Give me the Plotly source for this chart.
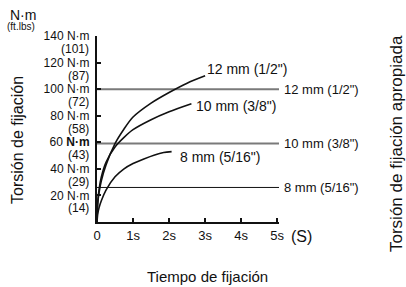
import plotly.graph_objects as go

# ---- data ----
torque_ticks = [20, 40, 60, 80, 100, 120, 140]
torque_ftlbs = ["(14)", "(29)", "(43)", "(58)", "(72)", "(87)", "(101)"]
time_ticks = [0, 1, 2, 3, 4, 5]
time_labels = ["0", "1s", "2s", "3s", "4s", "5s"]

bolt_names = ['12 mm (1/2")', '10 mm (3/8")', '8 mm (5/16")']

t_12 = [0, 0.02, 0.06, 0.12, 0.25, 0.5, 0.75, 1.0, 1.5, 2.0, 2.5, 3.0]
v_12 = [0, 14, 22.5, 31, 43, 59, 70, 79, 89.5, 97.5, 104.5, 110]

t_10 = [0, 0.02, 0.06, 0.12, 0.25, 0.5, 0.75, 1.0, 1.5, 2.0, 2.62]
v_10 = [0, 15, 25, 34, 45, 56.5, 63.7, 69.5, 77, 83, 89]

t_8 = [0, 0.02, 0.06, 0.12, 0.25, 0.5, 0.75, 1.0, 1.3, 1.6, 1.85, 2.07]
v_8 = [0, 6, 11, 16, 24, 34, 40, 44, 47.5, 50.5, 52.3, 53]

ref_torque = [100, 59, 26]   # appropriate torque for 12, 10, 8 mm
ref_t_end = 5.05

FONT = "Liberation Sans, Arial, sans-serif"
W, H = 406, 287
ML, MR, MT, MB = 97, 127, 36, 65
pw, ph = W - ML - MR, H - MT - MB


def px_x(px):
    return (px - ML) / pw


def px_y(py):
    return 1 - (py - MT) / ph


fig = go.Figure()

# reference (appropriate torque) lines
ref_colors = ["#7a7a7a", "#7a7a7a", "#111111"]
ref_widths = [2, 2, 1]
for val, col, w in zip(ref_torque, ref_colors, ref_widths):
    fig.add_trace(go.Scatter(x=[0, ref_t_end], y=[val, val], mode="lines",
                             line=dict(color=col, width=w), hoverinfo="skip",
                             showlegend=False, cliponaxis=False))

# tightening curves
for tt, vv in [(t_12, v_12), (t_10, v_10), (t_8, v_8)]:
    fig.add_trace(go.Scatter(x=tt, y=vv, mode="lines",
                             line=dict(color="#111111", width=1.6, shape="spline", smoothing=0.8),
                             hoverinfo="skip", showlegend=False))

ann = []
# curve end labels
label_shift = [(0, 7), (3, -2), (6, -5)]
for (tt, vv), name, (dx, dy) in zip([(t_12, v_12), (t_10, v_10), (t_8, v_8)], bolt_names, label_shift):
    ann.append(dict(x=tt[-1], y=vv[-1], xref="x", yref="y", text=name, showarrow=False,
                    xanchor="left", yanchor="middle", xshift=dx, yshift=dy,
                    font=dict(size=14, color="#111111", family=FONT)))
# right labels
for val, name in zip(ref_torque, bolt_names):
    ann.append(dict(x=ref_t_end, y=val, xref="x", yref="y", text=name, showarrow=False,
                    xanchor="left", yanchor="middle", xshift=3,
                    font=dict(size=13, color="#111111", family=FONT)))
# ft.lbs sub-labels
for v, ft in zip(torque_ticks, torque_ftlbs):
    ann.append(dict(x=0, y=v, xref="paper", yref="y", text=ft, showarrow=False,
                    xanchor="right", yanchor="middle", xshift=-6, yshift=-13,
                    font=dict(size=12, color="#111111", family=FONT)))
# unit header
ann.append(dict(x=px_x(23), y=px_y(15), xref="paper", yref="paper", text="N·m", showarrow=False,
                xanchor="center", yanchor="middle",
                font=dict(size=14, color="#111111", family=FONT)))
ann.append(dict(x=px_x(21), y=px_y(26), xref="paper", yref="paper", text="(ft.lbs)", showarrow=False,
                xanchor="center", yanchor="middle",
                font=dict(size=10, color="#111111", family=FONT)))
# (S)
ann.append(dict(x=px_x(301), y=px_y(236), xref="paper", yref="paper", text="(S)", showarrow=False,
                xanchor="center", yanchor="middle",
                font=dict(size=16, color="#111111", family=FONT)))
# y title (left) and right title
ann.append(dict(x=px_x(17), y=px_y(140), xref="paper", yref="paper", text="Torsión de fijación",
                showarrow=False, textangle=-90, xanchor="center", yanchor="middle",
                font=dict(size=16, color="#111111", family=FONT)))
ann.append(dict(x=px_x(396), y=px_y(144), xref="paper", yref="paper", text="Torsión de fijación apropiada",
                showarrow=False, textangle=-90, xanchor="center", yanchor="middle",
                font=dict(size=17, color="#111111", family=FONT)))
# x title
ann.append(dict(x=px_x(207), y=px_y(276), xref="paper", yref="paper", text="Tiempo de fijación",
                showarrow=False, xanchor="center", yanchor="middle",
                font=dict(size=15, color="#111111", family=FONT)))

fig.update_layout(
    width=W, height=H,
    margin=dict(l=ML, r=MR, t=MT, b=MB, autoexpand=False),
    paper_bgcolor="white", plot_bgcolor="white",
    font=dict(family=FONT, color="#111111"),
    annotations=ann,
    xaxis=dict(range=[0, ref_t_end], tickvals=time_ticks, ticktext=time_labels,
               ticks="inside", ticklen=4, tickwidth=1.5, tickcolor="#111111",
               showline=True, linecolor="#111111", linewidth=2, showgrid=False, zeroline=False,
               tickfont=dict(size=13, family=FONT), automargin=False),
    yaxis=dict(range=[0, 140], tickvals=torque_ticks,
               ticktext=[f"{v} N·m" if v != 60 else "60 <b>N·m</b>" for v in torque_ticks],
               ticks="inside", ticklen=4, tickwidth=1.5, tickcolor="#111111",
               showline=True, linecolor="#111111", linewidth=2, showgrid=False, zeroline=False,
               tickfont=dict(size=12, family=FONT), ticklabelstandoff=3, automargin=False),
)

# remove the default page margin so the 406x287 figure fills the window exactly
fig.write_html("out.html", config={"displayModeBar": False},
               post_script="document.body.style.margin='0';document.body.style.overflow='hidden';")
